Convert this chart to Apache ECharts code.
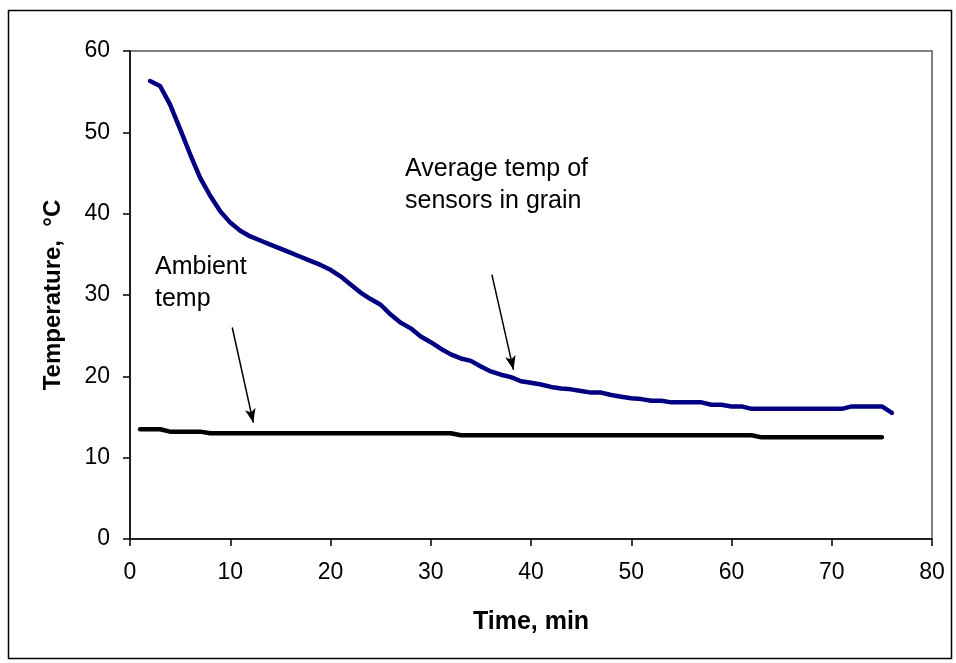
<!DOCTYPE html>
<html>
<head>
<meta charset="utf-8">
<script src="https://cdn.jsdelivr.net/npm/echarts@6/dist/echarts.min.js"></script>
<style>
html,body{margin:0;padding:0;background:#fff;}
#chart{width:956px;height:663px;}
</style>
</head>
<body>
<div id="chart"></div>
<script>
// Time (min) values
const grainTime = [2,3,4,5,6,7,8,9,10,11,12,13,14,15,16,17,18,19,20,21,22,23,24,25,26,27,28,29,30,31,32,33,34,35,36,37,38,39,40,41,42,43,44,45,46,47,48,49,50,51,52,53,54,55,56,57,58,59,60,61,62,63,64,65,66,67,68,69,70,71,72,73,74,75,76];
const grainTemp = [56.3,55.7,53.4,50.4,47.3,44.4,42.2,40.3,38.9,37.9,37.2,36.7,36.2,35.7,35.2,34.7,34.2,33.7,33.1,32.3,31.3,30.3,29.5,28.8,27.6,26.6,25.9,24.9,24.2,23.4,22.7,22.2,21.9,21.2,20.6,20.2,19.9,19.4,19.2,19.0,18.7,18.5,18.4,18.2,18.0,18.0,17.7,17.5,17.3,17.2,17.0,17.0,16.8,16.8,16.8,16.8,16.5,16.5,16.3,16.3,16.0,16.0,16.0,16.0,16.0,16.0,16.0,16.0,16.0,16.0,16.3,16.3,16.3,16.3,15.5];
const ambientTime = [1,2,3,4,5,6,7,8,9,10,11,12,13,14,15,16,17,18,19,20,21,22,23,24,25,26,27,28,29,30,31,32,33,34,35,36,37,38,39,40,41,42,43,44,45,46,47,48,49,50,51,52,53,54,55,56,57,58,59,60,61,62,63,64,65,66,67,68,69,70,71,72,73,74,75];
const ambientTemp = [13.5,13.5,13.5,13.2,13.2,13.2,13.2,13.0,13.0,13.0,13.0,13.0,13.0,13.0,13.0,13.0,13.0,13.0,13.0,13.0,13.0,13.0,13.0,13.0,13.0,13.0,13.0,13.0,13.0,13.0,13.0,13.0,12.75,12.75,12.75,12.75,12.75,12.75,12.75,12.75,12.75,12.75,12.75,12.75,12.75,12.75,12.75,12.75,12.75,12.75,12.75,12.75,12.75,12.75,12.75,12.75,12.75,12.75,12.75,12.75,12.75,12.75,12.5,12.5,12.5,12.5,12.5,12.5,12.5,12.5,12.5,12.5,12.5,12.5,12.5];
const xTicks = [0,10,20,30,40,50,60,70,80];
const yTicks = [0,10,20,30,40,50,60];
const xTitle = 'Time, min';
const yTitle = 'Temperature,  \u00B0C';
const grainLabel = ['Average temp of', 'sensors in grain'];
const ambientLabel = ['Ambient', 'temp'];
// arrows in data coordinates [from, to]
const grainArrow = [[36.1, 32.5], [38.25, 20.8]];
const ambientArrow = [[10.2, 26.0], [12.3, 14.3]];

const FONT = '"Liberation Sans", Arial, sans-serif';
const chart = echarts.init(document.getElementById('chart'), null, {renderer: 'canvas'});

function pairs(xs, ys){ return xs.map((x,i)=>[x, ys[i]]); }

const option = {
  animation: false,
  backgroundColor: '#fff',
  grid: {left: 130, top: 51, width: 802, height: 488, show: true, borderColor: '#808080', borderWidth: 2, backgroundColor: 'transparent'},
  xAxis: {
    type: 'value', min: xTicks[0], max: xTicks[xTicks.length-1], interval: 10,
    name: xTitle, nameLocation: 'middle', nameGap: 71,
    nameTextStyle: {fontFamily: FONT, fontWeight: 'bold', fontSize: 25, color: '#000'},
    axisLine: {show: true, onZero: false, lineStyle: {color: '#000', width: 1.5}},
    axisTick: {show: true, inside: false, length: 7, lineStyle: {color: '#000', width: 1.5}},
    axisLabel: {fontFamily: FONT, fontSize: 23, color: '#000', margin: 22},
    splitLine: {show: false}
  },
  yAxis: {
    type: 'value', min: yTicks[0], max: yTicks[yTicks.length-1], interval: 10,
    name: yTitle, nameLocation: 'middle', nameGap: 65,
    nameTextStyle: {fontFamily: FONT, fontWeight: 'bold', fontSize: 24, color: '#000'},
    axisLine: {show: true, onZero: false, lineStyle: {color: '#000', width: 1.5}},
    axisTick: {show: true, inside: false, length: 7, lineStyle: {color: '#000', width: 1.5}},
    axisLabel: {fontFamily: FONT, fontSize: 23, color: '#000', margin: 20},
    splitLine: {show: false}
  },
  series: [
    {
      type: 'line', name: 'Average temp of sensors in grain', data: pairs(grainTime, grainTemp),
      showSymbol: false, symbol: 'none', lineStyle: {color: '#000080', width: 4.5, cap: 'round', join: 'round'},
      markLine: {
        silent: true, symbol: ['none', 'arrow'], symbolSize: [8, 14],
        lineStyle: {color: '#000', width: 1.5, type: 'solid'}, label: {show: false},
        itemStyle: {color: '#000'},
        emphasis: {disabled: true},
        data: [
          [{coord: grainArrow[0]}, {coord: grainArrow[1]}],
          [{coord: ambientArrow[0]}, {coord: ambientArrow[1]}]
        ]
      }
    },
    {
      type: 'line', name: 'Ambient temp', data: pairs(ambientTime, ambientTemp),
      showSymbol: false, symbol: 'none', lineStyle: {color: '#000', width: 4.5, cap: 'round', join: 'round'}
    }
  ],
  graphic: [
    {type: 'rect', left: 6, top: 8, shape: {width: 943, height: 648}, style: {fill: 'none', stroke: '#000', lineWidth: 1.5}, silent: true, z: -1},
    {type: 'text', left: 405, top: 153, style: {text: grainLabel.join('\n'), font: '25px ' + FONT, fill: '#000', lineHeight: 32}},
    {type: 'text', left: 155, top: 251, style: {text: ambientLabel.join('\n'), font: '25px ' + FONT, fill: '#000', lineHeight: 32}}
  ]
};
chart.setOption(option);
</script>
</body>
</html>
